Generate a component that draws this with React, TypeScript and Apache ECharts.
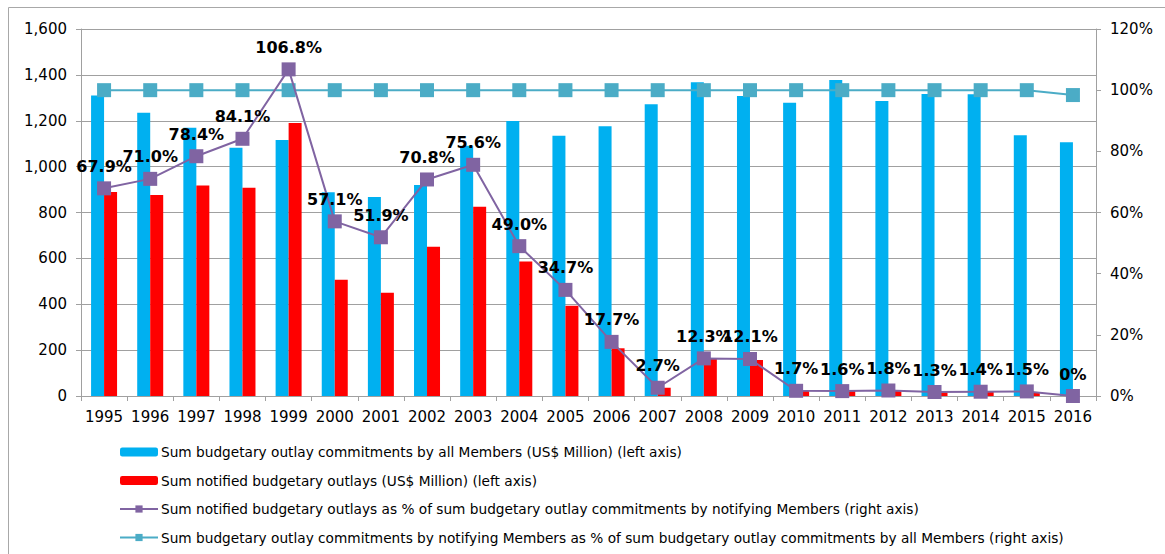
import React, { useEffect, useRef } from "react";
import * as echarts from "echarts";

const years = ["1995","1996","1997","1998","1999","2000","2001","2002","2003","2004","2005","2006","2007","2008","2009","2010","2011","2012","2013","2014","2015","2016"];
const commitmentsAll = [1310,1235,1170,1082,1116,888,868,920,1091,1199,1135,1176,1272,1368,1308,1279,1378,1286,1317,1315,1137,1106];
const notifiedOutlays = [889,876,918,908,1190,507,450,651,825,586,394,208,36,164,157,22,22,23,17,18,17,0];
const notifiedPct = [67.9,71.0,78.4,84.1,106.8,57.1,51.9,70.8,75.6,49.0,34.7,17.7,2.7,12.3,12.1,1.7,1.6,1.8,1.3,1.4,1.5,0];
const notifyingPct = [100,100,100,100,100,100,100,100,100,100,100,100,100,100,100,100,100,100,100,100,100,98.4];

const seriesNames = [
  "Sum budgetary outlay commitments by all Members (US$ Million) (left axis)",
  "Sum notified budgetary outlays (US$ Million) (left axis)",
  "Sum notified budgetary outlays as % of sum budgetary outlay commitments by notifying Members (right axis)",
  "Sum budgetary outlay commitments by notifying Members as % of sum budgetary outlay commitments by all Members (right axis)",
];

const FONT = "DejaVu Sans";

export default function App() {
  const ref = useRef<HTMLDivElement>(null);
  useEffect(() => {
    if (!ref.current) return;
    const chart = echarts.init(ref.current, null, { renderer: "svg" });
    const axisGray = "#a0a0a0";
    chart.setOption({
      animation: false,
      backgroundColor: "#ffffff",
      textStyle: { fontFamily: FONT },
      grid: { left: 81, right: 69, top: 29, bottom: 158, containLabel: false },
      graphic: [
        {
          type: "rect",
          shape: { x: 8.5, y: 7.5, width: 1300, height: 700 },
          style: { fill: "none", stroke: "#a8a8a8", lineWidth: 1 },
          silent: true,
        },
      ],
      legend: {
        orient: "vertical",
        left: 119,
        top: 445,
        height: 109,
        itemWidth: 38,
        itemHeight: 9,
        itemGap: 14.5,
        padding: 0,
        textStyle: { fontFamily: FONT, fontSize: 13.7, color: "#000", padding: [0, 0, 0, -2] },
        data: seriesNames,
      },
      xAxis: {
        type: "category",
        data: years,
        boundaryGap: true,
        axisLine: { show: true, lineStyle: { color: axisGray, width: 1 } },
        axisTick: { show: true, length: 5, lineStyle: { color: axisGray } },
        axisLabel: { fontFamily: FONT, fontSize: 15, color: "#000", margin: 13, interval: 0 },
      },
      yAxis: [
        {
          type: "value",
          min: 0,
          max: 1600,
          interval: 200,
          axisLine: { show: true, lineStyle: { color: axisGray } },
          axisTick: { show: true, length: 5, lineStyle: { color: axisGray } },
          splitLine: { show: true, lineStyle: { color: axisGray, width: 1.2 } },
          axisLabel: {
            fontFamily: FONT,
            fontSize: 15,
            color: "#000",
            margin: 14,
            formatter: (v: number) => v.toLocaleString("en-US"),
          },
        },
        {
          type: "value",
          min: 0,
          max: 120,
          interval: 20,
          position: "right",
          axisLine: { show: true, lineStyle: { color: axisGray } },
          axisTick: { show: true, length: 5, lineStyle: { color: axisGray } },
          splitLine: { show: false },
          axisLabel: {
            fontFamily: FONT,
            fontSize: 15,
            color: "#000",
            margin: 14,
            formatter: (v: number) => `${v}%`,
          },
        },
      ],
      series: [
        {
          name: seriesNames[0],
          type: "bar",
          data: commitmentsAll,
          barWidth: 13,
          barGap: "0%",
          itemStyle: { color: "#00B0F0" },
        },
        {
          name: seriesNames[1],
          type: "bar",
          data: notifiedOutlays,
          barWidth: 13,
          barGap: "0%",
          itemStyle: { color: "#FF0000" },
        },
        {
          name: seriesNames[3],
          type: "line",
          yAxisIndex: 1,
          data: notifyingPct,
          symbol: "rect",
          symbolSize: 14,
          lineStyle: { color: "#4BACC6", width: 2 },
          itemStyle: { color: "#4BACC6" },
          z: 3,
        },
        {
          name: seriesNames[2],
          type: "line",
          yAxisIndex: 1,
          data: notifiedPct,
          symbol: "rect",
          symbolSize: 14,
          lineStyle: { color: "#8064A2", width: 2 },
          itemStyle: { color: "#8064A2" },
          z: 4,
          label: {
            show: true,
            position: "top",
            distance: 7,
            fontFamily: FONT,
            fontSize: 16,
            fontWeight: "bold",
            color: "#000",
            formatter: (p: any) => (p.value === 0 ? "0%" : `${Number(p.value).toFixed(1)}%`),
          },
        },
      ],
    });
    return () => chart.dispose();
  }, []);
  return (
    <div
      ref={ref}
      style={{ position: "absolute", left: 0, top: 0, width: 1165, height: 554, background: "#fff" }}
    />
  );
}
